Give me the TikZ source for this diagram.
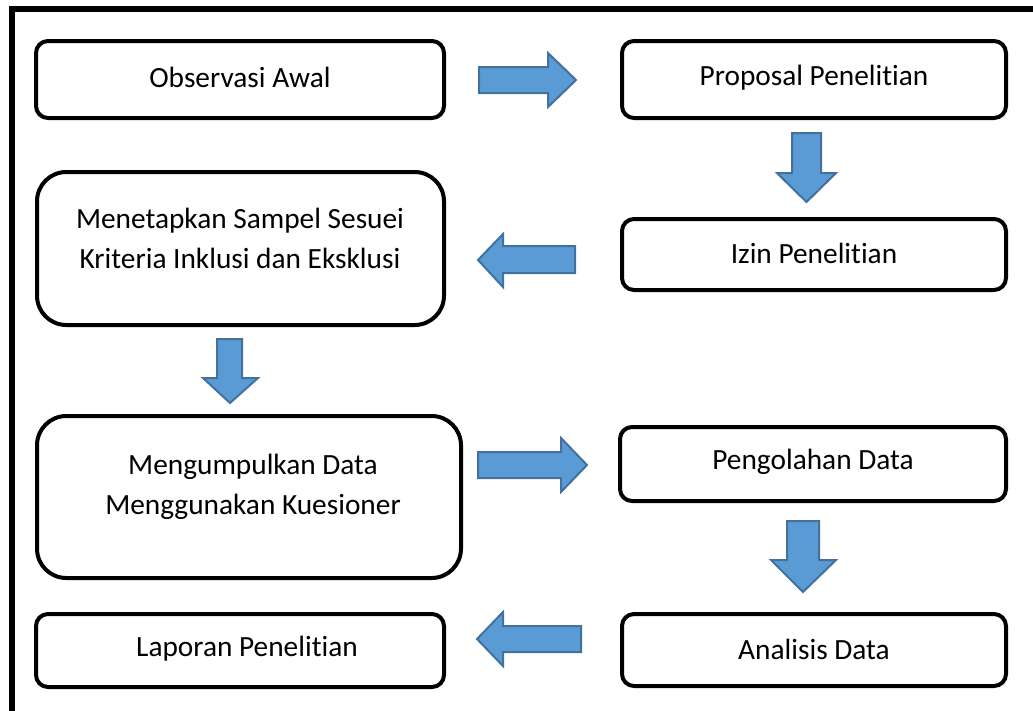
\documentclass[tikz,border=0pt]{standalone}
\usepackage{fontspec}
\setmainfont{Carlito}[Ligatures={NoCommon}]
\definecolor{arrfill}{HTML}{5B9BD5}
\definecolor{arrline}{HTML}{41719C}
\begin{document}
\begin{tikzpicture}[x=0.75pt,y=-0.75pt,
  box/.style={draw=black,line width=3pt,rounded corners=9pt,inner sep=0pt},
  bigbox/.style={box,rounded corners=22pt},
  lbl/.style={font=\fontsize{22}{30}\selectfont,align=center,inner sep=0pt},
  blockarrow/.style={fill=arrfill,draw=arrline,line width=1.5pt,line join=miter}]
\useasboundingbox (0,0) rectangle (1033,711);
% outer frame
\draw[line width=4.5pt] (12,711) -- (12,9) -- (1033,9);
% boxes
\node[box,minimum width=306pt,minimum height=57.75pt] (b1) at (240,79.5) {};
\node[box,minimum width=288pt,minimum height=57.75pt] (b2) at (814,79.5) {};
\node[bigbox,minimum width=305.25pt,minimum height=114.75pt] (b3) at (240.5,248.5) {};
\node[box,minimum width=288pt,minimum height=53.25pt] (b4) at (814,254.5) {};
\node[bigbox,minimum width=318pt,minimum height=121.5pt] (b5) at (249,497) {};
\node[box,minimum width=289.5pt,minimum height=55.5pt] (b6) at (813,464) {};
\node[box,minimum width=306pt,minimum height=54.75pt] (b7) at (240,650.5) {};
\node[box,minimum width=288pt,minimum height=54pt] (b8) at (814,650) {};
% labels
\node[lbl] (t1) at (240,77) {Observasi Awal};
\node[lbl] (t2) at (814,78) {Proposal Penelitian};
\node[lbl] (t3) at (240,238) {Menetapkan Sampel Sesuei\\Kriteria Inklusi dan Eksklusi};
\node[lbl] (t4) at (814,253) {Izin Penelitian};
\node[lbl] (t5) at (253,487) {Mengumpulkan Data\\Menggunakan Kuesioner};
\node[lbl] (t6) at (813,462) {Pengolahan Data};
\node[lbl] (t7) at (247,649) {Laporan Penelitian};
\node[lbl] (t8) at (814,649) {Analisis Data};
% block arrows
\draw[blockarrow] (479,67) -- (548,67) -- (548,53) -- (576,80) -- (548,107) -- (548,93) -- (479,93) -- cycle;
\draw[blockarrow] (792,133) -- (821,133) -- (821,173) -- (836,173) -- (806.5,202) -- (777,173) -- (792,173) -- cycle;
\draw[blockarrow] (575,246) -- (503,246) -- (503,234) -- (478,260) -- (503,287) -- (503,273) -- (575,273) -- cycle;
\draw[blockarrow] (217,339) -- (242,339) -- (242,378) -- (258,378) -- (230,403) -- (203,378) -- (217,378) -- cycle;
\draw[blockarrow] (478,452) -- (561,452) -- (561,438) -- (587,465) -- (561,492) -- (561,478) -- (478,478) -- cycle;
\draw[blockarrow] (787,521) -- (819,521) -- (819,560) -- (836,560) -- (803,592) -- (771,560) -- (787,560) -- cycle;
\draw[blockarrow] (581,626) -- (503,626) -- (503,612) -- (477,639) -- (503,666) -- (503,652) -- (581,652) -- cycle;
\end{tikzpicture}
\end{document}
